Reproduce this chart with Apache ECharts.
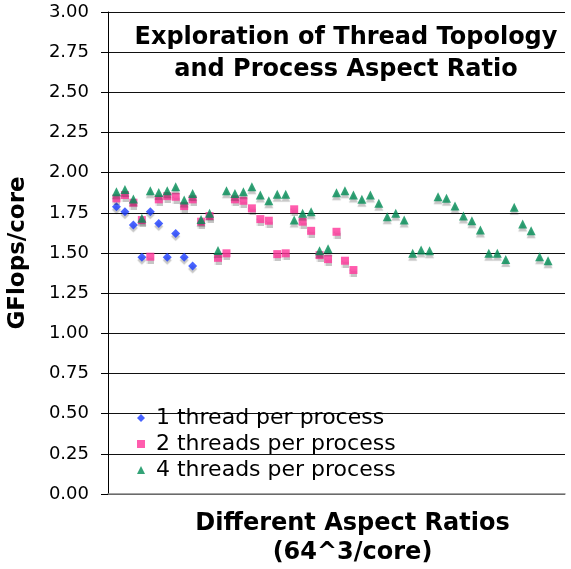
<!DOCTYPE html>
<html><head><meta charset="utf-8">
<script src="https://cdn.jsdelivr.net/npm/echarts@6/dist/echarts.min.js"></script>
<style>html,body{margin:0;padding:0;background:#fff}#c{width:571px;height:569px}</style>
</head><body><div id="c"></div>
<script>
var seriesNames = ['1 thread per process', '2 threads per process', '4 threads per process'];
var oneThread = [1.788,1.757,1.674,1.473,1.757,1.684,1.473,1.622,1.473,1.419];
var twoThreads = [1.840,1.861,1.813,1.705,1.477,1.834,1.854,1.850,1.792,1.834,1.695,1.730,1.470,1.498,1.834,1.825,1.778,1.711,1.701,1.493,1.498,1.772,1.695,1.638,1.487,1.462,1.632,1.452,1.394];
var fourThreads = [1.881,1.896,1.836,1.716,1.887,1.877,1.887,1.912,1.830,1.871,1.709,1.747,1.516,1.887,1.871,1.881,1.912,1.861,1.825,1.865,1.865,1.705,1.747,1.757,1.514,1.526,1.875,1.887,1.861,1.834,1.861,1.809,1.726,1.747,1.705,1.498,1.518,1.514,1.850,1.840,1.792,1.730,1.701,1.643,1.498,1.498,1.460,1.784,1.680,1.638,1.477,1.452];
var yTicks = ['0.00','0.25','0.50','0.75','1.00','1.25','1.50','1.75','2.00','2.25','2.50','2.75','3.00'];

function pts(arr){ return arr.map(function(v,i){ return [i+1, v]; }); }
var font = 'DejaVu Sans';
var shadow = {shadowColor:'rgba(0,0,0,0.28)', shadowOffsetY:3, shadowBlur:1};
var chart = echarts.init(document.getElementById('c'), null, {renderer:'canvas'});
chart.setOption({
  animation:false,
  backgroundColor:'#fff',
  textStyle:{fontFamily:font},
  title:{
    text:'Exploration of Thread Topology\nand Process Aspect Ratio',
    left:341, top:17, padding:5, textAlign:'center',
    textStyle:{fontFamily:font, fontWeight:'bold', fontSize:24, color:'#000', lineHeight:32}
  },
  legend:{
    orient:'vertical', left:132, top:402, itemGap:4, itemWidth:8, itemHeight:8,
    textStyle:{fontFamily:font, fontSize:22, color:'#000', lineHeight:22, padding:[0,0,0,6]},
    data:seriesNames
  },
  grid:{left:108, right:6, top:12, bottom:75, outerBoundsMode:'none', containLabel:false},
  xAxis:{
    type:'value', min:0, max:54,
    axisLine:{show:true, lineStyle:{color:'#888', width:1.5}},
    axisTick:{show:false}, axisLabel:{show:false}, splitLine:{show:false},
    name:'Different Aspect Ratios\n(64^3/core)', nameLocation:'middle', nameGap:15,
    nameTextStyle:{fontFamily:font, fontWeight:'bold', fontSize:24, color:'#000', lineHeight:29, padding:[0,0,0,32]}
  },
  yAxis:{
    type:'value', min:0, max:3, interval:0.25,
    axisLine:{show:true, lineStyle:{color:'#000'}},
    axisTick:{show:true, inside:false, length:7, lineStyle:{color:'#000'}},
    axisLabel:{fontFamily:font, fontSize:18, color:'#000', margin:19, formatter:function(v){ return yTicks[Math.round(v/0.25)]; }},
    splitLine:{show:true, lineStyle:{color:'#111', width:1}},
    name:'GFlops/core', nameLocation:'middle', nameGap:78,
    nameTextStyle:{fontFamily:font, fontWeight:'bold', fontSize:23, color:'#000'}
  },
  series:[
    {name:seriesNames[0], type:'scatter', symbol:'diamond', symbolSize:9, data:pts(oneThread), itemStyle:Object.assign({color:'#1a3cff'}, shadow)},
    {name:seriesNames[1], type:'scatter', symbol:'rect', symbolSize:8, data:pts(twoThreads), itemStyle:Object.assign({color:'#ff3399'}, shadow)},
    {name:seriesNames[2], type:'scatter', symbol:'triangle', symbolSize:9, data:pts(fourThreads), itemStyle:Object.assign({color:'#008c55'}, shadow)}
  ]
});
</script></body></html>
